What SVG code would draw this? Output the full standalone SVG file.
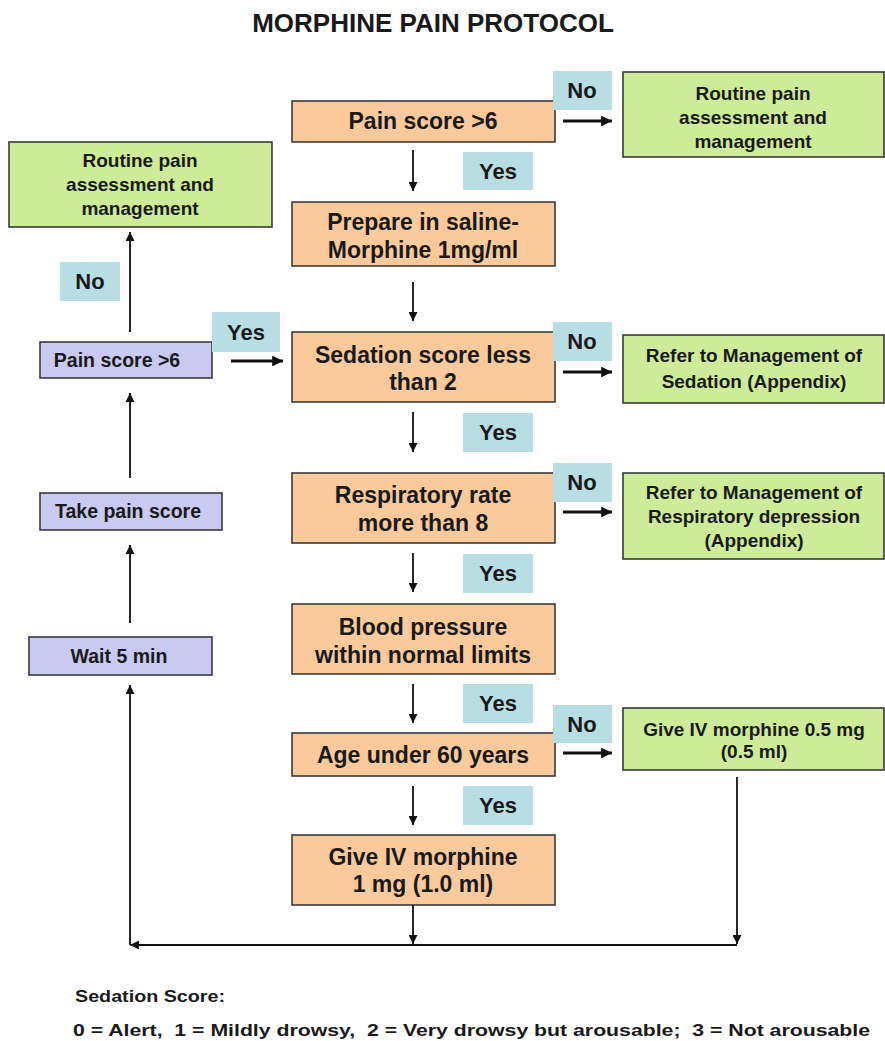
<svg xmlns="http://www.w3.org/2000/svg" width="885" height="1041" viewBox="0 0 885 1041">
  <defs>
    <marker id="ah" viewBox="0 0 10 10" refX="10" refY="5" markerWidth="5.5" markerHeight="5" orient="auto" markerUnits="strokeWidth">
      <path d="M0,0 L10,5 L0,10 z" fill="#111"/>
    </marker>
    <marker id="ahs" viewBox="0 0 10 10" refX="10" refY="5" markerWidth="3.6" markerHeight="3.6" orient="auto" markerUnits="strokeWidth">
      <path d="M0,0 L10,5 L0,10 z" fill="#111"/>
    </marker>
    <style>
      text { font-family: "Liberation Sans", Arial, sans-serif; font-weight: bold; fill: #1a1a1a; }
      .box { stroke: #3a3a3a; stroke-width: 1.6; }
      .step { fill: #fac99c; }
      .out { fill: #cdeb98; }
      .loop { fill: #c9c9f1; }
      .tag { fill: #b8dee4; }
      .t22 { font-size: 23px; text-anchor: middle; }
      .t19 { font-size: 19px; text-anchor: middle; }
      .t18 { font-size: 19.5px; text-anchor: middle; }
      .lbl { font-size: 22px; text-anchor: middle; }
      .v { stroke: #111; stroke-width: 1.8; fill: none; marker-end: url(#ah); }
      .h { stroke: #111; stroke-width: 3; fill: none; marker-end: url(#ahs); }
    </style>
  </defs>
  <rect width="885" height="1041" fill="#ffffff"/>

  <text x="433" y="32" font-size="26" text-anchor="middle">MORPHINE PAIN PROTOCOL</text>

  <!-- main column -->
  <g id="pain-score">
    <rect class="box step" x="292" y="101" width="263" height="41"/>
    <text class="t22" x="423" y="129">Pain score &gt;6</text>
  </g>
  <g id="prepare">
    <rect class="box step" x="292" y="202" width="263" height="64"/>
    <text class="t22" x="423" y="230">Prepare in saline-</text>
    <text class="t22" x="423" y="258">Morphine 1mg/ml</text>
  </g>
  <g id="sedation">
    <rect class="box step" x="292" y="332" width="263" height="70"/>
    <text class="t22" x="423" y="363">Sedation score less</text>
    <text class="t22" x="423" y="390">than 2</text>
  </g>
  <g id="respiratory">
    <rect class="box step" x="292" y="473" width="263" height="70"/>
    <text class="t22" x="423" y="503">Respiratory rate</text>
    <text class="t22" x="423" y="531">more than 8</text>
  </g>
  <g id="blood-pressure">
    <rect class="box step" x="292" y="604" width="263" height="70"/>
    <text class="t22" x="423" y="635">Blood pressure</text>
    <text class="t22" x="423" y="663">within normal limits</text>
  </g>
  <g id="age">
    <rect class="box step" x="292" y="733" width="263" height="43"/>
    <text class="t22" x="423" y="763">Age under 60 years</text>
  </g>
  <g id="give-1mg">
    <rect class="box step" x="292" y="835" width="263" height="70"/>
    <text class="t22" x="423" y="865">Give IV morphine</text>
    <text class="t22" x="423" y="892">1 mg (1.0 ml)</text>
  </g>

  <!-- right-hand outcomes -->
  <g id="routine-right">
    <rect class="box out" x="623" y="72" width="261" height="85"/>
    <text class="t19" x="753" y="100">Routine pain</text>
    <text class="t19" x="753" y="124">assessment and</text>
    <text class="t19" x="753" y="148">management</text>
  </g>
  <g id="sedation-mgmt">
    <rect class="box out" x="623" y="335" width="261" height="68"/>
    <text class="t19" x="754" y="362">Refer to Management of</text>
    <text class="t19" x="754" y="388">Sedation (Appendix)</text>
  </g>
  <g id="resp-mgmt">
    <rect class="box out" x="623" y="473" width="261" height="86"/>
    <text class="t19" x="754" y="499">Refer to Management of</text>
    <text class="t19" x="754" y="523">Respiratory depression</text>
    <text class="t19" x="754" y="547">(Appendix)</text>
  </g>
  <g id="give-half">
    <rect class="box out" x="623" y="708" width="261" height="62"/>
    <text class="t19" x="754" y="736">Give IV morphine 0.5 mg</text>
    <text class="t19" x="754" y="758">(0.5 ml)</text>
  </g>

  <!-- left loop -->
  <g id="routine-left">
    <rect class="box out" x="9" y="142" width="263" height="85"/>
    <text class="t19" x="140" y="167">Routine pain</text>
    <text class="t19" x="140" y="191">assessment and</text>
    <text class="t19" x="140" y="215">management</text>
  </g>
  <g id="repeat-pain-score">
    <rect class="box loop" x="40" y="342" width="172" height="36"/>
    <text class="t18" x="117" y="367">Pain score &gt;6</text>
  </g>
  <g id="take-pain-score">
    <rect class="box loop" x="40" y="493" width="182" height="37"/>
    <text class="t18" x="128" y="518">Take pain score</text>
  </g>
  <g id="wait">
    <rect class="box loop" x="29" y="637" width="183" height="38"/>
    <text class="t18" x="119" y="663">Wait 5 min</text>
  </g>

  <!-- decision labels -->
  <g id="labels">
    <rect class="tag" x="553" y="71" width="59" height="39"/>
    <text class="lbl" x="582" y="98">No</text>
    <rect class="tag" x="463" y="152" width="70" height="38"/>
    <text class="lbl" x="498" y="179">Yes</text>
    <rect class="tag" x="553" y="322" width="59" height="39"/>
    <text class="lbl" x="582" y="349">No</text>
    <rect class="tag" x="463" y="413" width="70" height="39"/>
    <text class="lbl" x="498" y="440">Yes</text>
    <rect class="tag" x="553" y="463" width="59" height="39"/>
    <text class="lbl" x="582" y="490">No</text>
    <rect class="tag" x="463" y="554" width="70" height="39"/>
    <text class="lbl" x="498" y="581">Yes</text>
    <rect class="tag" x="463" y="684" width="70" height="39"/>
    <text class="lbl" x="498" y="711">Yes</text>
    <rect class="tag" x="553" y="705" width="59" height="38"/>
    <text class="lbl" x="582" y="732">No</text>
    <rect class="tag" x="463" y="786" width="70" height="39"/>
    <text class="lbl" x="498" y="813">Yes</text>
    <rect class="tag" x="60" y="262" width="60" height="39"/>
    <text class="lbl" x="90" y="289">No</text>
    <rect class="tag" x="212" y="312" width="68" height="40"/>
    <text class="lbl" x="246" y="340">Yes</text>
  </g>

  <!-- connectors -->
  <g id="connectors">
    <line class="v" x1="413" y1="150" x2="413" y2="191"/>
    <line class="v" x1="413" y1="282" x2="413" y2="321"/>
    <line class="v" x1="413" y1="412" x2="413" y2="452"/>
    <line class="v" x1="413" y1="553" x2="413" y2="592"/>
    <line class="v" x1="413" y1="684" x2="413" y2="723"/>
    <line class="v" x1="413" y1="786" x2="413" y2="825"/>
    <line class="v" x1="413" y1="905" x2="413" y2="944"/>
    <line class="v" x1="737" y1="777" x2="737" y2="944"/>

    <line class="h" x1="563" y1="121" x2="612" y2="121"/>
    <line class="h" x1="563" y1="372" x2="612" y2="372"/>
    <line class="h" x1="563" y1="512" x2="612" y2="512"/>
    <line class="h" x1="563" y1="753" x2="612" y2="753"/>
    <line class="h" x1="231" y1="361" x2="283" y2="361"/>

    <line class="v" x1="737" y1="945" x2="130" y2="945"/>
    <line class="v" x1="130" y1="945" x2="130" y2="685"/>
    <line class="v" x1="130" y1="623" x2="130" y2="545"/>
    <line class="v" x1="130" y1="478" x2="130" y2="393"/>
    <line class="v" x1="130" y1="332" x2="130" y2="232"/>
  </g>

  <g id="legend">
    <text x="75" y="1002" font-size="16" textLength="150" lengthAdjust="spacingAndGlyphs">Sedation Score:</text>
    <text x="73" y="1036" font-size="16.5" xml:space="preserve" style="white-space:pre" textLength="797" lengthAdjust="spacingAndGlyphs">0 = Alert,  1 = Mildly drowsy,  2 = Very drowsy but arousable;  3 = Not arousable</text>
  </g>
</svg>
